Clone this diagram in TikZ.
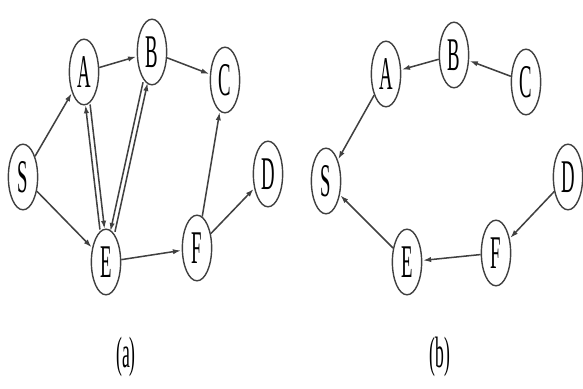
\documentclass[tikz,border=0pt]{standalone}
\usepackage{fontspec}
\setmainfont{Liberation Serif}
\usepackage{graphicx}
\usetikzlibrary{arrows.meta,shapes.geometric}
\newcommand{\tallch}[1]{\scalebox{1}[2.5]{#1}}

\begin{document}
\begin{tikzpicture}[x=0.03cm, y=-0.03cm,
    vtx/.style={draw=black!75, line width=1.2pt, ellipse, inner sep=0pt,
      minimum width=25pt, minimum height=56pt, font=\fontsize{16}{18}\selectfont},
    arr/.style={draw=black!75, line width=1.3pt, -{Latex[length=7pt,width=4.5pt]}, shorten >=0.5pt},
    sublbl/.style={font=\fontsize{15}{17}\selectfont}]
  \useasboundingbox (0,0) rectangle (583,388);
  %% graph (a)
  \node[vtx] (aS) at (23,177) {\tallch{S}};
  \node[vtx] (aA) at (84,72)  {\tallch{A}};
  \node[vtx] (aB) at (152,52) {\tallch{B}};
  \node[vtx] (aC) at (225,80) {\tallch{C}};
  \node[vtx] (aD) at (268,174) {\tallch{D}};
  \node[vtx] (aE) at (106,262) {\tallch{E}};
  \node[vtx] (aF) at (197,248) {\tallch{F}};
  \draw[arr] (aS) -- (aA);
  \draw[arr] (aS) -- (aE);
  \draw[arr] (aA) -- (aB);
  \draw[arr] (aB) -- (aC);
  \draw[arr, transform canvas={xshift=-2pt}] (aE) -- (aA);
  \draw[arr, transform canvas={xshift=2pt}]  (aA) -- (aE);
  \draw[arr, transform canvas={xshift=2pt}]  (aE) -- (aB);
  \draw[arr, transform canvas={xshift=-2pt}] (aB) -- (aE);
  \draw[arr] (aE) -- (aF);
  \draw[arr] (aF) -- (aC);
  \draw[arr] (aF) -- (aD);
  \node[sublbl] (capa) at (126,357) {\tallch{(a)}};
  %% graph (b)
  \node[vtx] (bS) at (326,181) {\tallch{S}};
  \node[vtx] (bA) at (386,74)  {\tallch{A}};
  \node[vtx] (bB) at (454,55)  {\tallch{B}};
  \node[vtx] (bC) at (526,82)  {\tallch{C}};
  \node[vtx] (bD) at (568,177) {\tallch{D}};
  \node[vtx] (bE) at (407,262) {\tallch{E}};
  \node[vtx] (bF) at (496,253) {\tallch{F}};
  \draw[arr] (bB) -- (bA);
  \draw[arr] (bC) -- (bB);
  \draw[arr] (bA) -- (bS);
  \draw[arr] (bD) -- (bF);
  \draw[arr] (bF) -- (bE);
  \draw[arr] (bE) -- (bS);
  \node[sublbl] (capb) at (440,357) {\tallch{(b)}};
\end{tikzpicture}
\end{document}
